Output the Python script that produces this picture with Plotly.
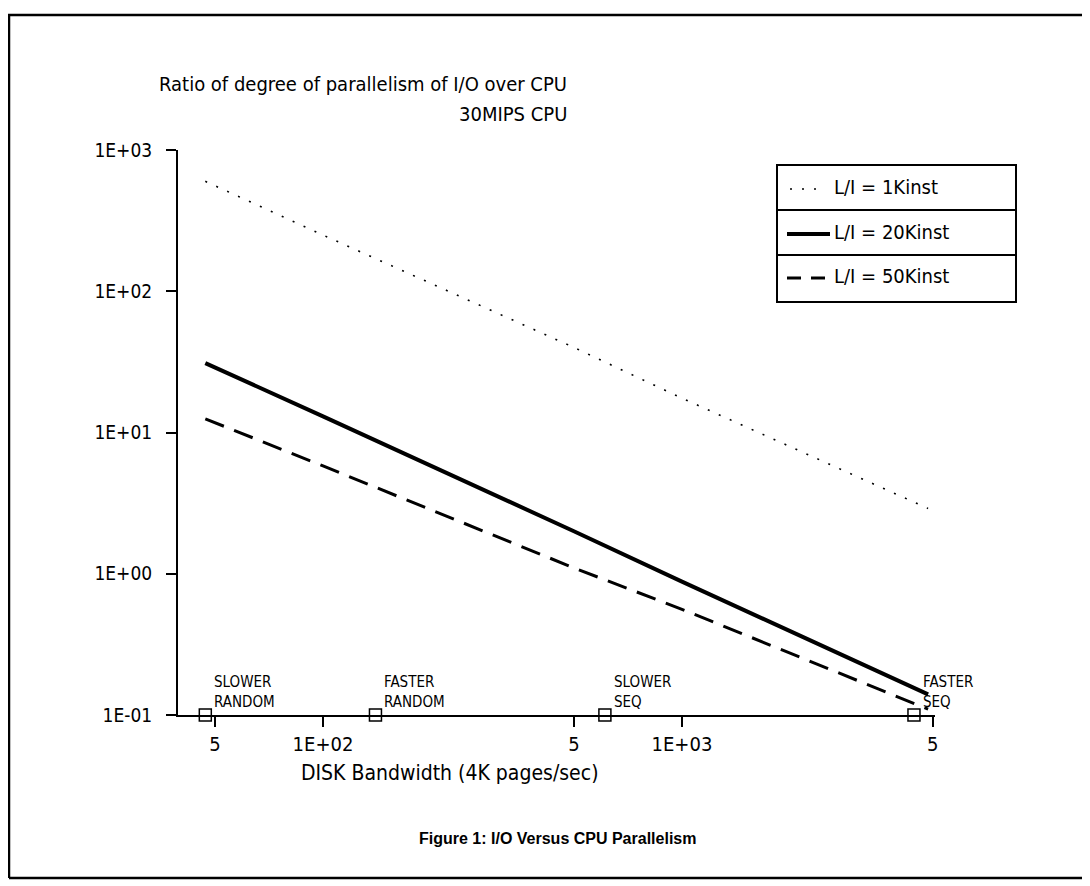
import math
import plotly.graph_objects as go

# ---- data ----
bandwidth = [47, 100, 500, 1000, 4850]
li_1k = [600, 250, 40, 17.5, 2.9]
li_20k = [31, 13, 2.0, 0.88, 0.14]
li_50k = [12.5, 5.8, 1.1, 0.56, 0.11]

device_names = ["SLOWER<br>RANDOM", "FASTER<br>RANDOM", "SLOWER<br>SEQ", "FASTER<br>SEQ"]
device_bw = [47, 140, 610, 4430]
device_y = [0.1, 0.1, 0.1, 0.1]

x_tickvals = [50, 100, 500, 1000, 5000]
x_ticktext = ["5", "1E+02", "5", "1E+03", "5"]
y_tickvals = [0.1, 1, 10, 100, 1000]
y_ticktext = ["1E-01", "1E+00", "1E+01", "1E+02", "1E+03"]

series_names = ["L/I = 1Kinst", "L/I = 20Kinst", "L/I = 50Kinst"]

FONT = "DejaVu Sans Condensed, Liberation Sans Narrow, Roboto, sans-serif"
W, H = 1090, 886
OFF = 8  # page body margin
# plot area in screen coordinates
SL, SR, ST, SB = 178, 935, 150, 715
L, R, T, B = SL - OFF, SR - OFF, ST - OFF, SB - OFF


def px(xs):
    return (xs - SL) / (SR - SL)


def py(ys):
    return (SB - ys) / (SB - ST)


fig = go.Figure()
fig.add_trace(go.Scatter(x=bandwidth, y=li_1k, mode="lines", name=series_names[0],
                         line=dict(color="black", width=1.6, dash="2px,10px")))
fig.add_trace(go.Scatter(x=bandwidth, y=li_20k, mode="lines", name=series_names[1],
                         line=dict(color="black", width=4)))
fig.add_trace(go.Scatter(x=bandwidth, y=li_50k, mode="lines", name=series_names[2],
                         line=dict(color="black", width=3, dash="20px,11px")))
fig.add_trace(go.Scatter(x=device_bw, y=device_y, mode="markers",
                         marker=dict(symbol="square-open", size=12,
                                     color="black", line=dict(width=1.5)),
                         cliponaxis=False, showlegend=False))

fig.update_xaxes(type="log", range=[1.596, 3.705],
                 tickvals=x_tickvals, ticktext=x_ticktext,
                 ticks="outside", ticklen=10, tickwidth=2, tickcolor="black",
                 showline=True, linecolor="black", linewidth=2,
                 showgrid=False, zeroline=False,
                 tickfont=dict(family=FONT, size=20, color="black"))
fig.update_yaxes(type="log", range=[-1, 3],
                 tickvals=y_tickvals, ticktext=y_ticktext,
                 ticks="outside", ticklen=10, tickwidth=2, tickcolor="black",
                 showline=True, linecolor="black", linewidth=2,
                 showgrid=False, zeroline=False,
                 ticklabelstandoff=10,
                 tickfont=dict(family=FONT, size=19, color="black"))

shapes = []
annotations = []

# frame
shapes.append(dict(type="line", xref="paper", yref="paper", x0=px(7), x1=px(1100), y0=py(15), y1=py(15),
                   line=dict(color="black", width=2.5)))
shapes.append(dict(type="line", xref="paper", yref="paper", x0=px(9), x1=px(9), y0=py(15), y1=py(878),
                   line=dict(color="black", width=2.5)))
shapes.append(dict(type="line", xref="paper", yref="paper", x0=px(9), x1=px(1100), y0=py(878), y1=py(878),
                   line=dict(color="black", width=2.5)))
# small extension of x axis line to the left of y axis
shapes.append(dict(type="line", xref="paper", yref="paper", x0=px(170), x1=px(178), y0=py(715), y1=py(715),
                   line=dict(color="black", width=2)))

# device labels
for bw, name in zip(device_bw, device_names):
    annotations.append(dict(x=math.log10(bw), y=-1, xref="x", yref="y", text=name,
                            showarrow=False, xanchor="left", yanchor="bottom", align="left",
                            xshift=7, yshift=2,
                            font=dict(family=FONT, size=15, color="black")))

# legend box
lx0, lx1, ly0, ly1 = 777, 1016, 165, 302
shapes.append(dict(type="rect", xref="paper", yref="paper", x0=px(lx0), x1=px(lx1), y0=py(ly0), y1=py(ly1),
                   line=dict(color="black", width=2), fillcolor="white"))
for yy in (210, 255):
    shapes.append(dict(type="line", xref="paper", yref="paper", x0=px(lx0), x1=px(lx1), y0=py(yy), y1=py(yy),
                       line=dict(color="black", width=2)))
row_y = [187, 232, 276]
samples = [("2px,10px", 1.6, 790, 820), ("solid", 4, 787, 830), ("14px,10px", 3, 787, 830)]
for (dash, wdt, sx0, sx1), ry, name in zip(samples, row_y, series_names):
    shapes.append(dict(type="line", xref="paper", yref="paper", x0=px(sx0), x1=px(sx1), y0=py(ry + 2), y1=py(ry + 2),
                       line=dict(color="black", width=wdt, dash=dash)))
    annotations.append(dict(xref="paper", yref="paper", x=px(832), y=py(ry), text=name, showarrow=False,
                            xanchor="left", yanchor="middle", font=dict(family=FONT, size=20, color="black")))

# titles
annotations.append(dict(xref="paper", yref="paper", x=px(569), y=py(84),
                        text="Ratio of degree of parallelism of I/O over CPU", showarrow=False,
                        xanchor="right", yanchor="middle", font=dict(family=FONT, size=20, color="black")))
annotations.append(dict(xref="paper", yref="paper", x=px(569), y=py(114),
                        text="30MIPS CPU", showarrow=False,
                        xanchor="right", yanchor="middle", font=dict(family=FONT, size=20, color="black")))
annotations.append(dict(xref="paper", yref="paper", x=px(450), y=py(773),
                        text="DISK Bandwidth (4K pages/sec)", showarrow=False,
                        xanchor="center", yanchor="middle", font=dict(family=FONT, size=21, color="black")))
annotations.append(dict(xref="paper", yref="paper", x=px(557), y=py(838),
                        text="<b>Figure 1: I/O Versus CPU Parallelism</b>", showarrow=False,
                        xanchor="center", yanchor="middle", font=dict(family="Liberation Sans, Arial, sans-serif", size=16, color="black")))

fig.update_layout(width=W, height=H, margin=dict(l=L, r=W - R, t=T, b=H - B),
                  paper_bgcolor="white", plot_bgcolor="white", showlegend=False,
                  shapes=shapes, annotations=annotations,
                  font=dict(family=FONT, color="black"))

fig.write_html("out.html")
